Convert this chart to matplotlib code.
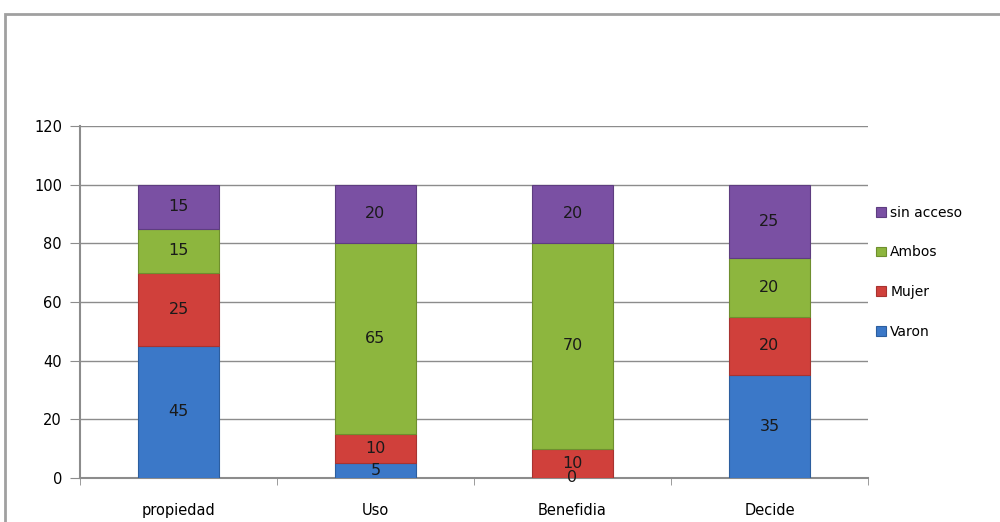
import numpy as np
import matplotlib.pyplot as plt
from matplotlib.patches import Rectangle

categories = ['propiedad', 'Uso', 'Benefidia', 'Decide']
series = ['Varon', 'Mujer', 'Ambos', 'sin acceso']
varon = [45, 5, 0, 35]
mujer = [25, 10, 10, 20]
ambos = [15, 65, 70, 20]
sin_acceso = [15, 20, 20, 25]
colors = ['#3B78C8', '#D0403B', '#8DB63E', '#7A50A3']
edges = ['#2C5E9E', '#A83330', '#6E8F2E', '#5E3D80']

fig = plt.figure(figsize=(10, 5.22), dpi=100)
fig.patches.append(Rectangle((0.005, -0.1), 1.1, 1.1 - 14/522, transform=fig.transFigure,
                             fill=False, edgecolor='#A0A0A0', linewidth=2))
ax = fig.add_axes([0.08, 44/522, 0.788, 352/522])

x = np.arange(len(categories))
bottom = np.zeros(len(categories))
for name, vals, c, ec in zip(series, [varon, mujer, ambos, sin_acceso], colors, edges):
    vals = np.array(vals)
    bars = ax.bar(x, vals, 0.41, bottom=bottom, color=c, edgecolor=ec, linewidth=0.8,
                  label=name, zorder=3)
    for xi, b, v in zip(x, bottom, vals):
        ax.text(xi, b + v/2, str(v), ha='center', va='center', fontsize=11.5, color='#1a1a1a', zorder=4)
    bottom += vals

ax.set_xlim(-0.5, 3.5)
ax.set_ylim(0, 120)
ax.set_yticks(range(0, 121, 20))
ax.yaxis.grid(True, color='#8C8C8C', linewidth=1, zorder=0)
ax.set_xticks(x)
ax.set_xticklabels(categories, fontsize=10.5)
ax.set_xticks(np.arange(-0.5, 3.6, 1), minor=True)
ax.tick_params(axis='x', which='major', length=0, pad=18)
ax.tick_params(axis='x', which='minor', length=5, color='#8C8C8C')
ax.tick_params(axis='y', length=7, color='#8C8C8C', labelsize=10.5, pad=6)
for s in ['top', 'right']:
    ax.spines[s].set_visible(False)
for s in ['left', 'bottom']:
    ax.spines[s].set_color('#8C8C8C')
    ax.spines[s].set_linewidth(1.5)

h, l = ax.get_legend_handles_labels()
ax.legend(h[::-1], l[::-1], loc='center left', bbox_to_anchor=(1.0, 0.585), frameon=False,
          fontsize=10, handlelength=0.7, handleheight=0.7, handletextpad=0.3, labelspacing=1.85,
          borderaxespad=0.2)

fig.savefig('out.png', dpi=100)
